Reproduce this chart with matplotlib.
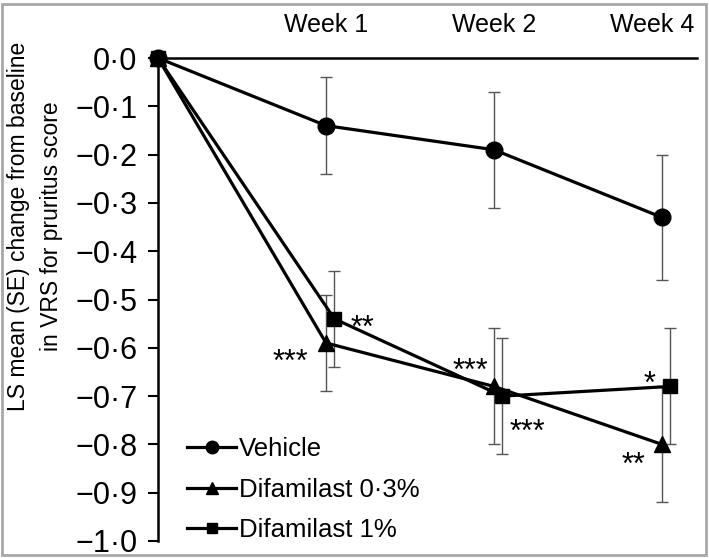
import matplotlib
matplotlib.use('Agg')
import matplotlib.pyplot as plt
from matplotlib.patches import Rectangle
import numpy as np

plt.rcParams['font.family'] = ['Liberation Sans', 'DejaVu Sans']

# data
visits = ['Baseline', 'Week 1', 'Week 2', 'Week 4']
vehicle = [0.0, -0.14, -0.19, -0.33]
vehicle_se = [0.0, 0.10, 0.12, 0.13]
dif03 = [0.0, -0.59, -0.68, -0.80]
dif03_se = [0.0, 0.10, 0.12, 0.12]
dif1 = [0.0, -0.54, -0.70, -0.68]
dif1_se = [0.0, 0.10, 0.12, 0.12]
yticks = [0.0, -0.1, -0.2, -0.3, -0.4, -0.5, -0.6, -0.7, -0.8, -0.9, -1.0]

# significance stars: (series, visit index, label, pixel offset of star centre)
stars = [('dif1', 1, '**', (28, 0)),
         ('dif03', 1, '***', (-36, 10)),
         ('dif03', 2, '***', (-24, -24)),
         ('dif1', 2, '***', (25, 27)),
         ('dif1', 3, '*', (-21, -11)),
         ('dif03', 3, '**', (-29, 12))]

fig = plt.figure(figsize=(7.09, 5.58), dpi=100)
ax = fig.add_axes([158/709, 1-541/558, (697-158)/709, (541-58)/558])

x = np.arange(len(visits))
shift = np.array([0, 0.05, 0.05, 0.05])  # squares sit a bit to the right
xs = {'vehicle': x, 'dif03': x, 'dif1': x + shift}
ys = {'vehicle': vehicle, 'dif03': dif03, 'dif1': dif1}

ebkw = dict(ecolor='#555555', elinewidth=1.0, capsize=4, capthick=1.0, zorder=2)
ax.errorbar(x, vehicle, yerr=vehicle_se, fmt='none', **ebkw)
ax.errorbar(x, dif03, yerr=dif03_se, fmt='none', **ebkw)
ax.errorbar(x + shift, dif1, yerr=dif1_se, fmt='none', **ebkw)

lkw = dict(color='black', lw=2.3, zorder=3, clip_on=False)
ax.plot(x, vehicle, marker='o', ms=12, label='Vehicle', **lkw)
ax.plot(x, dif03, marker='^', ms=11, label='Difamilast 0·3%', **lkw)
ax.plot(x + shift, dif1, marker='s', ms=10.5, label='Difamilast 1%', **lkw)

star_fs = 22
for name, i, lab, off in stars:
    ax.annotate(lab, xy=(xs[name][i], ys[name][i]),
                xytext=(off[0], -off[1] - 0.58 * star_fs * 100 / 72),
                textcoords='offset pixels', ha='center', va='baseline', fontsize=star_fs)

ax.set_xlim(0, (697-158)/168)
ax.set_ylim(-1.0, 0.0)
ax.set_yticks(yticks)
ax.set_yticklabels([('−' if v < 0 else '') + ('%.1f' % abs(v)).replace('.', '·') for v in yticks])
ax.tick_params(axis='y', direction='out', length=7, width=1.5, pad=8, labelsize=22)

# week labels above the top axis line
ax.set_xticks([])
week_dx = [0, 0, -10]
for i, lab in enumerate(visits[1:]):
    ax.annotate(lab, xy=(x[i + 1], 1.0), xycoords=('data', 'axes fraction'),
                xytext=(week_dx[i], 26), textcoords='offset pixels',
                ha='center', va='baseline', fontsize=18)

for s in ['right', 'bottom']:
    ax.spines[s].set_visible(False)
ax.spines['left'].set_linewidth(1.8)
ax.spines['top'].set_linewidth(1.8)

fig.text(35/709, 1-226/558, 'LS mean (SE) change from baseline\nin VRS for pruritus score',
         rotation=90, ha='center', va='center', fontsize=16.5, linespacing=1.6,
         multialignment='center')

leg = ax.legend(loc='lower left', bbox_to_anchor=(0.016, -0.044), frameon=False, fontsize=18.5,
                handlelength=1.9, handletextpad=0.12, labelspacing=0.63, borderpad=0.3,
                markerscale=0.75)

fig.patches.append(Rectangle((2/709, 3/558), 704/709, 551/558, transform=fig.transFigure,
                             fill=False, edgecolor='#a8a8a8', linewidth=2))

fig.savefig('out.png', dpi=100)
